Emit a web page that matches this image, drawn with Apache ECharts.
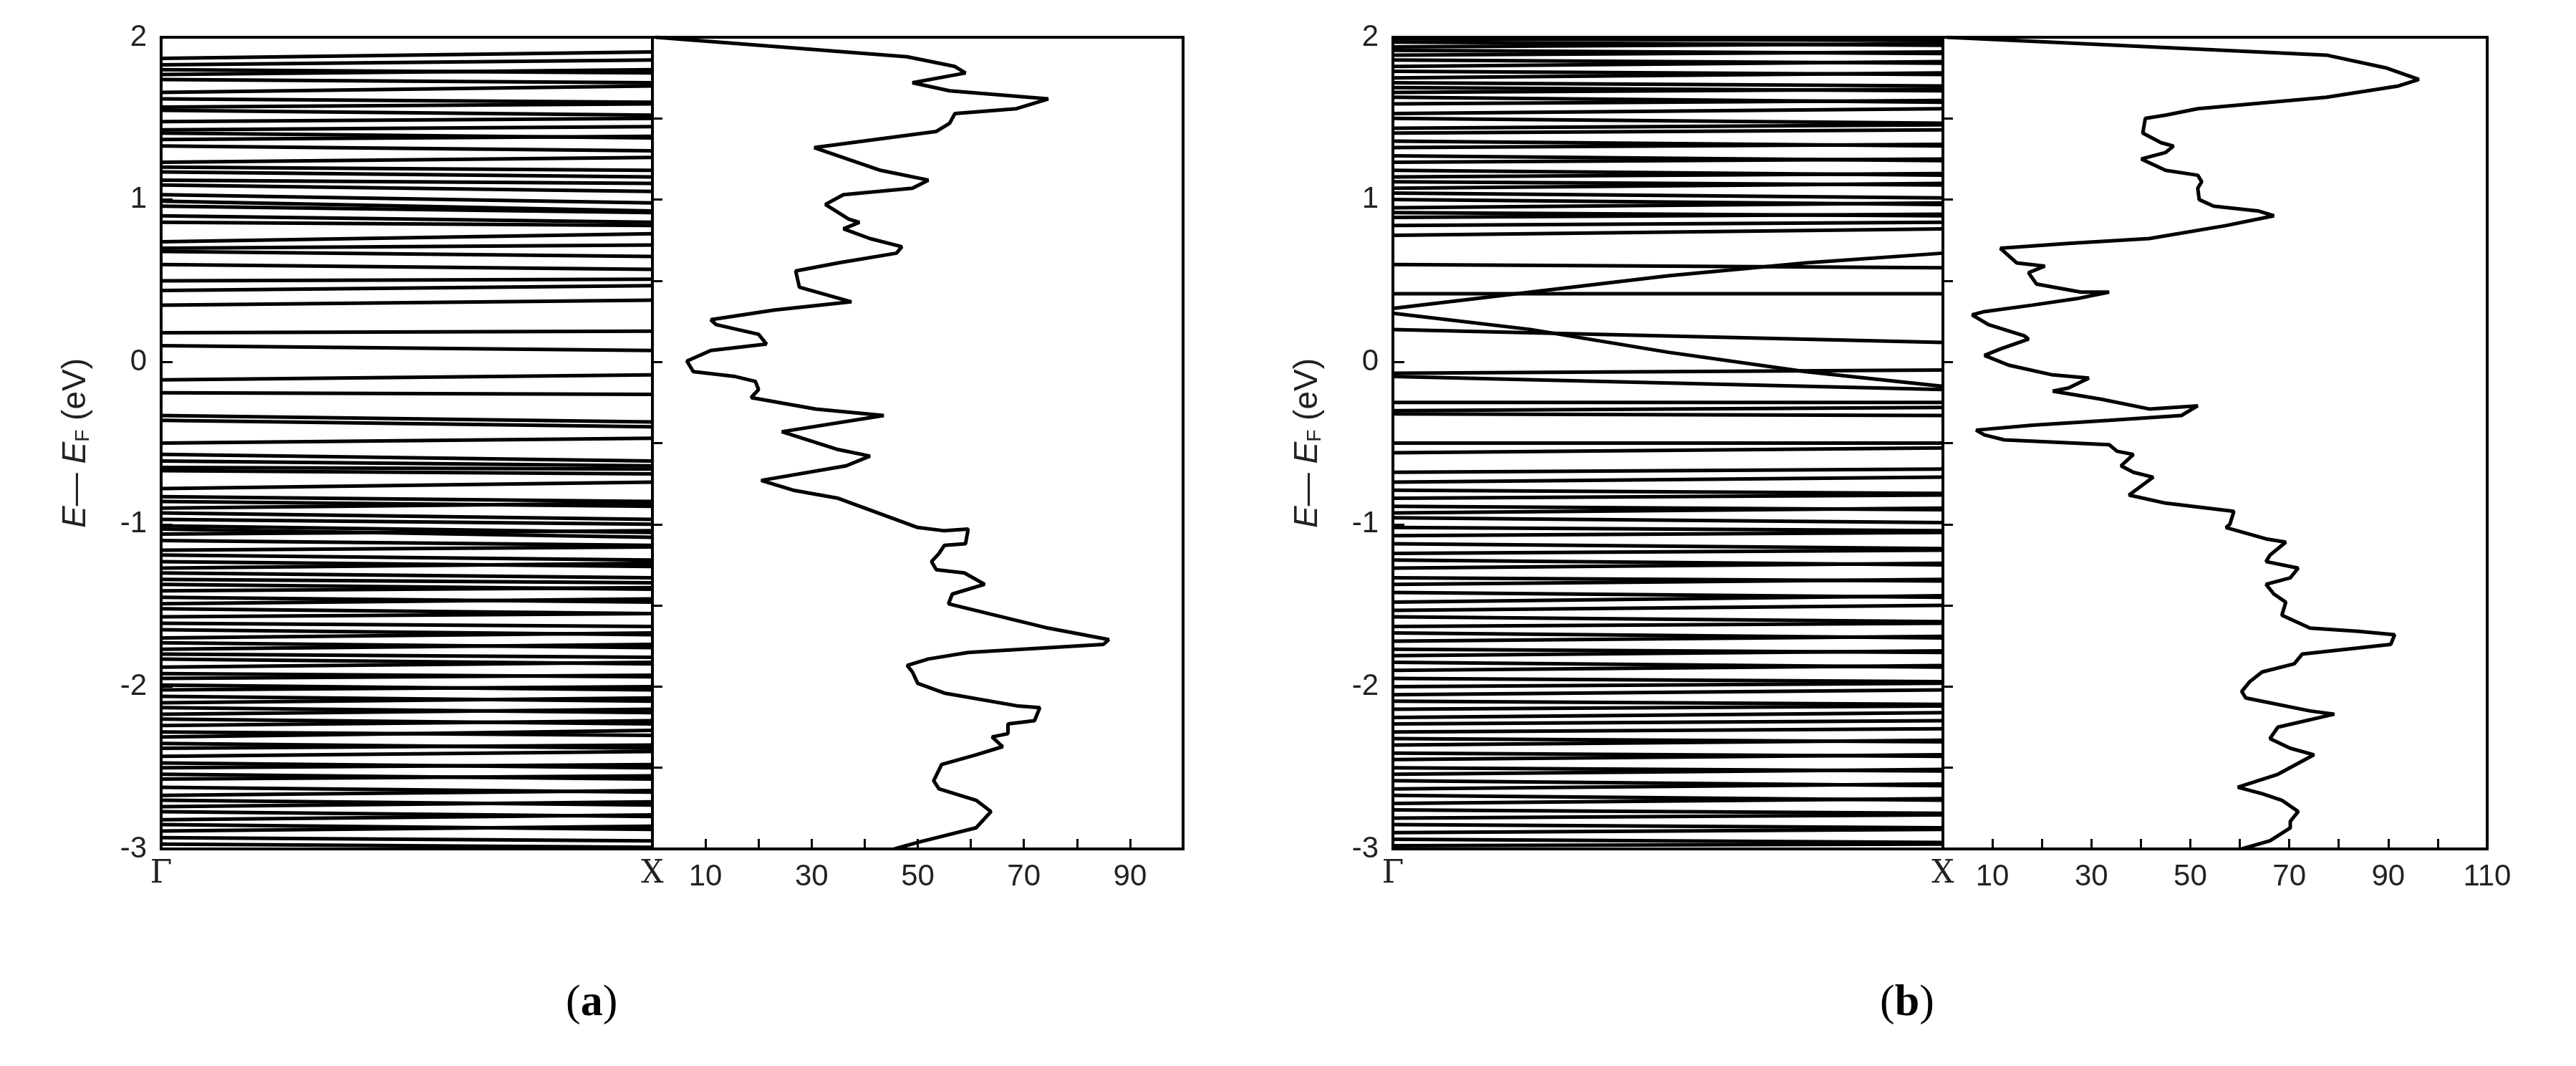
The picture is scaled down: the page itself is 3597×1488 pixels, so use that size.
<!DOCTYPE html>
<html><head><meta charset="utf-8">
<script src="https://cdn.jsdelivr.net/npm/echarts@6/dist/echarts.min.js"></script>
<style>html,body{margin:0;padding:0;background:#fff}#c{width:3597px;height:1488px}</style>
</head><body><div id="c"></div>
<script>
// ---- Data ----
const kLabels = ['Γ', 'X'];
const energyTicks = [-3, -2, -1, 0, 1, 2];
const dosTickLabelsA = [10, 30, 50, 70, 90];
const dosTickLabelsB = [10, 30, 50, 70, 90, 110];

const bandsA_G = [1.87,1.83,1.80,1.77,1.74,1.66,1.62,1.57,1.55,1.48,1.43,1.41,1.37,1.33,1.23,1.20,1.17,1.12,1.09,1.03,0.99,0.96,0.90,0.86,0.74,0.70,0.68,0.60,0.50,0.44,0.35,0.18,0.10,-0.11,-0.19,-0.33,-0.36,-0.50,-0.57,-0.61,-0.65,-0.67,-0.78,-0.83,-0.86,-0.90,-0.93,-0.97,-1.01,-1.03,-1.06,-1.10,-1.16,-1.19,-1.23,-1.27,-1.30,-1.34,-1.37,-1.41,-1.45,-1.49,-1.52,-1.57,-1.61,-1.65,-1.70,-1.73,-1.77,-1.80,-1.83,-1.88,-1.92,-1.95,-1.99,-2.02,-2.06,-2.10,-2.13,-2.17,-2.20,-2.24,-2.28,-2.31,-2.35,-2.38,-2.43,-2.47,-2.50,-2.54,-2.57,-2.62,-2.67,-2.70,-2.74,-2.77,-2.82,-2.85,-2.89,-2.93,-2.97];
const bandsA_X = [1.91,1.86,1.78,1.80,1.72,1.70,1.60,1.59,1.52,1.50,1.45,1.38,1.39,1.30,1.26,1.18,1.14,1.10,1.05,0.98,0.93,0.92,0.86,0.84,0.79,0.72,0.65,0.57,0.51,0.47,0.38,0.19,0.07,-0.08,-0.20,-0.37,-0.40,-0.47,-0.61,-0.64,-0.66,-0.69,-0.74,-0.86,-0.89,-0.87,-0.97,-1.00,-1.05,-1.08,-1.04,-1.13,-1.14,-1.22,-1.26,-1.24,-1.33,-1.36,-1.40,-1.39,-1.48,-1.46,-1.55,-1.55,-1.63,-1.68,-1.67,-1.76,-1.74,-1.82,-1.86,-1.85,-1.94,-1.93,-2.02,-2.00,-2.09,-2.07,-2.16,-2.14,-2.23,-2.21,-2.30,-2.27,-2.38,-2.36,-2.40,-2.50,-2.48,-2.57,-2.55,-2.65,-2.64,-2.73,-2.71,-2.80,-2.79,-2.88,-2.86,-2.95,-2.99];

const bandsB_G = [1.99,1.97,1.94,1.92,1.89,1.86,1.82,1.79,1.75,1.72,1.69,1.66,1.63,1.59,1.53,1.50,1.44,1.41,1.36,1.32,1.27,1.23,1.18,1.14,1.11,1.07,1.04,1.00,0.95,0.92,0.89,0.84,0.78,0.60,0.42,0.20,-0.07,-0.09,-0.25,-0.30,-0.32,-0.50,-0.56,-0.68,-0.74,-0.79,-0.84,-0.89,-0.93,-0.96,-1.02,-1.07,-1.12,-1.18,-1.22,-1.27,-1.33,-1.37,-1.42,-1.48,-1.53,-1.57,-1.63,-1.67,-1.72,-1.77,-1.81,-1.85,-1.90,-1.95,-2.00,-2.05,-2.09,-2.14,-2.19,-2.23,-2.28,-2.32,-2.36,-2.41,-2.45,-2.50,-2.54,-2.58,-2.63,-2.67,-2.72,-2.76,-2.81,-2.85,-2.90,-2.94,-2.98];
const bandsB_X = [1.98,1.95,1.96,1.90,1.91,1.84,1.85,1.77,1.78,1.70,1.67,1.68,1.60,1.61,1.56,1.47,1.46,1.43,1.33,1.34,1.24,1.25,1.15,1.16,1.09,1.10,1.01,0.97,0.98,0.90,0.91,0.86,0.82,0.58,0.42,0.12,-0.05,-0.17,-0.25,-0.28,-0.33,-0.50,-0.53,-0.66,-0.71,-0.81,-0.82,-0.91,-0.90,-0.99,-1.04,-1.05,-1.15,-1.16,-1.25,-1.24,-1.35,-1.34,-1.45,-1.44,-1.50,-1.60,-1.61,-1.70,-1.69,-1.79,-1.78,-1.88,-1.87,-1.97,-1.98,-2.02,-2.11,-2.12,-2.16,-2.21,-2.26,-2.34,-2.33,-2.43,-2.42,-2.52,-2.51,-2.61,-2.60,-2.70,-2.69,-2.78,-2.79,-2.87,-2.88,-2.96,-2.97];
const crossK = [0, 0.25, 0.5, 0.75, 1];
const bandB_up = [0.33, 0.43, 0.53, 0.61, 0.67];
const bandB_down = [0.30, 0.20, 0.06, -0.06, -0.15];

const dosA_E = [2.0,1.88,1.82,1.78,1.72,1.67,1.62,1.56,1.53,1.47,1.42,1.32,1.18,1.12,1.07,1.03,0.97,0.88,0.86,0.82,0.76,0.71,0.67,0.61,0.56,0.46,0.37,0.32,0.26,0.23,0.17,0.11,0.07,0.005,-0.06,-0.09,-0.12,-0.17,-0.22,-0.29,-0.33,-0.43,-0.54,-0.58,-0.64,-0.73,-0.79,-0.84,-1.02,-1.04,-1.03,-1.12,-1.13,-1.18,-1.23,-1.28,-1.30,-1.37,-1.43,-1.49,-1.64,-1.71,-1.74,-1.79,-1.83,-1.87,-1.91,-1.98,-2.04,-2.12,-2.13,-2.21,-2.23,-2.29,-2.31,-2.37,-2.42,-2.48,-2.58,-2.63,-2.70,-2.77,-2.87,-2.96,-3.0];
const dosA_V = [0.6,48,57,59,49,56,74.6,68.6,57,56,53.5,30.5,43,52,49,36,32.6,37,39,36,41,47,46,35,27,27.7,37.5,23,11,12,20,21.5,11,6.5,7.7,15.6,19.4,20,18.6,30.8,43.6,24.4,35,41,36.5,20.5,26.5,35,50,55,59.5,59,55,54,52.6,53.5,58.8,62.6,56.5,55.8,74.6,86,85,59.5,52,48,49,50,55,69,73,72,67,67,64,66,61,54.5,53,54,61,63.8,61,50,45.6];

const dosB_E = [2.00,1.89,1.81,1.74,1.70,1.63,1.56,1.52,1.50,1.41,1.35,1.33,1.29,1.25,1.18,1.15,1.11,1.07,1.00,0.96,0.93,0.90,0.84,0.76,0.73,0.70,0.61,0.59,0.55,0.48,0.43,0.43,0.39,0.35,0.31,0.29,0.23,0.16,0.14,0.08,0.04,-0.02,-0.08,-0.10,-0.16,-0.18,-0.23,-0.29,-0.27,-0.33,-0.36,-0.39,-0.42,-0.45,-0.48,-0.51,-0.55,-0.57,-0.64,-0.68,-0.71,-0.80,-0.82,-0.87,-0.92,-1.00,-1.02,-1.09,-1.11,-1.19,-1.23,-1.27,-1.33,-1.37,-1.43,-1.48,-1.56,-1.64,-1.66,-1.68,-1.74,-1.80,-1.86,-1.91,-1.97,-2.03,-2.07,-2.15,-2.17,-2.25,-2.32,-2.38,-2.42,-2.54,-2.62,-2.66,-2.70,-2.77,-2.83,-2.87,-2.95,-3.00];
const dosB_V = [0.7,77.5,89.7,96.2,92.1,77.5,51.5,45,40.9,40.4,44.1,46.6,45,40.1,45,51.5,52.3,51.5,51.8,54.7,63.7,66.9,57.2,41.7,25.4,11.6,14.9,20.6,17.3,18.9,27.9,33.6,27.1,18.1,8.4,5.9,9.2,16.5,17.3,11.6,8.4,13.3,22.2,29.5,25.4,22.2,32,41.7,51.5,48.2,33.6,18.1,6.7,8.4,12.4,33.6,35.2,38.5,36,38.5,42.5,38.5,37.6,45,58.8,58,57.2,65.3,69.3,66.1,65.3,71.8,70.2,65.3,66.9,69.3,68.5,74.2,84,91.3,90.5,72.6,71,64.5,62,60.4,61.2,74.2,79.1,67.7,66.1,70.2,75,67.7,59.6,64.5,68.5,71.8,70.2,70.2,66.1,60.4];

// ---- Layout ----
const L = {
  a: {bandL: 225, div: 911, dosR: 1652},
  b: {bandL: 1945, div: 2713, dosR: 3473},
  top: 52, bottom: 1185
};
const W = 3597, H = 1488;
const FONT = 'Arial, "Liberation Sans", sans-serif';
const LW = 5;

function bandLines(G, X) {
  const n = Math.min(G.length, X.length);
  const out = [];
  for (let i = 0; i < n; i++) out.push({coords: [[0, G[i]], [1, X[i]]]});
  return out;
}
function curve(ks, es) { return {coords: ks.map((k, i) => [k, es[i]])}; }
function zip(v, e) { return v.map((x, i) => [x, e[i]]); }

const grids = [], xAxes = [], yAxes = [], series = [];
function addPanel(p, bands, dos, dosMax, dosLabels) {
  const gi = grids.length;
  grids.push({left: p.bandL, width: p.div - p.bandL, top: L.top, height: L.bottom - L.top,
    show: true, borderColor: '#000', borderWidth: 4, backgroundColor: 'transparent'});
  grids.push({left: p.div, width: p.dosR - p.div, top: L.top, height: L.bottom - L.top,
    show: true, borderColor: '#000', borderWidth: 4, backgroundColor: 'transparent'});
  xAxes.push({gridIndex: gi, type: 'value', min: 0, max: 1, interval: 1,
    axisLine: {show: false, onZero: false}, axisTick: {show: false}, splitLine: {show: false},
    axisLabel: {fontSize: 44, fontFamily: '"DejaVu Serif", serif', color: '#222', margin: 14,
      formatter: v => v === 0 ? kLabels[0] : (v === 1 ? kLabels[1] : ''), showMinLabel: true, showMaxLabel: true}});
  xAxes.push({gridIndex: gi + 1, type: 'value', min: 0, max: dosMax, interval: 10,
    axisLine: {show: false, onZero: false}, axisTick: {show: true, inside: true, length: 14, lineStyle: {color: '#000', width: 3}},
    splitLine: {show: false},
    axisLabel: {fontSize: 42, fontFamily: FONT, color: '#222', margin: 18,
      formatter: v => dosLabels.includes(v) ? String(v) : ''}});
  yAxes.push({gridIndex: gi, type: 'value', min: -3, max: 2, interval: 1,
    name: '{i|E}{n|— }{i|E}{s|F}{n| (eV)}', nameLocation: 'middle', nameGap: 95, nameRotate: 90,
    nameTextStyle: {rich: {
      i: {fontSize: 46, fontStyle: 'italic', fontFamily: FONT, color: '#222'},
      n: {fontSize: 46, fontFamily: FONT, color: '#222'},
      s: {fontSize: 28, fontFamily: FONT, color: '#222', verticalAlign: 'bottom', padding: [20, 0, 0, 0]}}},
    axisLine: {show: false, onZero: false}, axisTick: {show: true, inside: true, length: 16, lineStyle: {color: '#000', width: 3}},
    splitLine: {show: false},
    axisLabel: {fontSize: 42, fontFamily: FONT, color: '#222', margin: 20,
      formatter: v => energyTicks.includes(v) ? String(v) : ''}});
  yAxes.push({gridIndex: gi + 1, type: 'value', min: -3, max: 2, interval: 0.5,
    axisLine: {show: false, onZero: false}, axisTick: {show: true, inside: true, length: 14, lineStyle: {color: '#000', width: 3}},
    splitLine: {show: false}, axisLabel: {show: false}});
  series.push({type: 'lines', coordinateSystem: 'cartesian2d', xAxisIndex: gi, yAxisIndex: gi,
    polyline: true, silent: true, data: bands, lineStyle: {color: '#000', width: LW, opacity: 1}, z: 1});
  series.push({type: 'line', xAxisIndex: gi + 1, yAxisIndex: gi + 1, data: dos, symbol: 'none',
    lineStyle: {color: '#000', width: 5}, silent: true, z: 2});
}

const bandsA = bandLines(bandsA_G, bandsA_X);
const bandsB = bandLines(bandsB_G, bandsB_X).concat([curve(crossK, bandB_up), curve(crossK, bandB_down)]);
addPanel(L.a, bandsA, zip(dosA_V, dosA_E), 100, dosTickLabelsA);
addPanel(L.b, bandsB, zip(dosB_V, dosB_E), 110, dosTickLabelsB);

const chart = echarts.init(document.getElementById('c'), null, {renderer: 'canvas', width: W, height: H});
chart.setOption({
  animation: false, backgroundColor: '#fff',
  grid: grids, xAxis: xAxes, yAxis: yAxes, series: series,
  graphic: [
    {type: 'text', left: 790, top: 1370, style: {text: '({b|a})', rich: {b: {fontWeight: 'bold', fontSize: 62, fontFamily: '"Liberation Serif", serif'}},
      fontSize: 62, fontFamily: '"Liberation Serif", serif', fill: '#000'}},
    {type: 'text', left: 2625, top: 1370, style: {text: '({b|b})', rich: {b: {fontWeight: 'bold', fontSize: 62, fontFamily: '"Liberation Serif", serif'}},
      fontSize: 62, fontFamily: '"Liberation Serif", serif', fill: '#000'}}
  ]
});
</script></body></html>
